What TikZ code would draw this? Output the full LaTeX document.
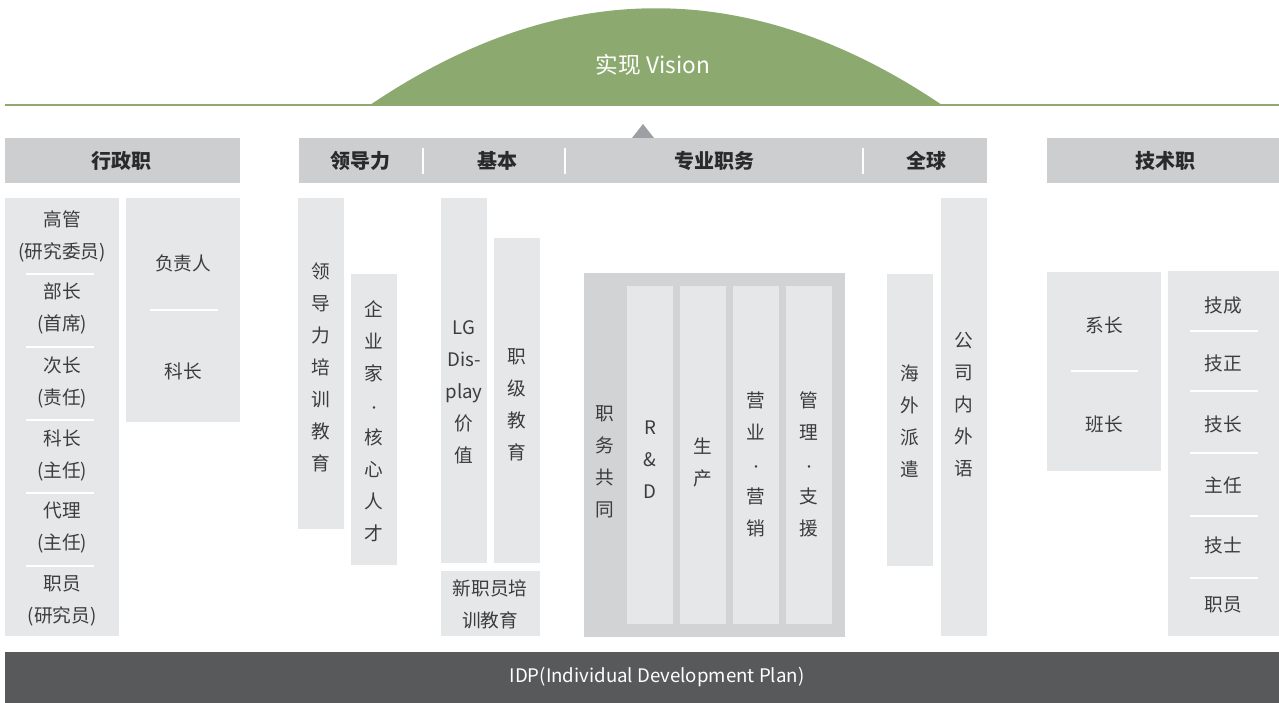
\documentclass[tikz,border=0pt]{standalone}
\usepackage{fontspec}
\setmainfont{Noto Sans CJK SC}
\definecolor{visiongreen}{HTML}{8CAA6F}
\definecolor{headgray}{HTML}{CDCED0}
\definecolor{cellgray}{HTML}{E6E7E8}
\definecolor{progray}{HTML}{D2D3D5}
\definecolor{idpgray}{HTML}{58595B}
\definecolor{tipgray}{HTML}{9D9FA2}
\definecolor{bodytext}{HTML}{3C3C3C}
\definecolor{headtext}{HTML}{2A2A2A}
\newcommand{\middot}{{\fontsize{9}{24}\selectfont·}}
\begin{document}
\begin{tikzpicture}[x=0.75pt,y=-0.75pt,
  head/.style={font=\fontsize{15}{18}\selectfont\bfseries,text=headtext,inner sep=0pt},
  txt/.style={font=\fontsize{14}{24}\selectfont,text=bodytext,align=center,inner sep=0pt},
  sep/.style={white,line width=0.9pt}]
\useasboundingbox (0,0) rectangle (1279,703);
% vision arch
\fill[visiongreen] (370,105) .. controls (561,-24) and (751,-24) .. (942,105) -- cycle;
\draw[visiongreen,line width=2pt] (5,105) -- (1279,105);
\node[font=\fontsize{17}{20}\selectfont,text=white] (vision) at (653,65) {实现 Vision};
\fill[tipgray] (643,124) -- (654,138) -- (632,138) -- cycle;
% header bars
\fill[headgray] (5,138) rectangle (240,183);
\fill[headgray] (299,138) rectangle (987,183);
\fill[headgray] (1047,138) rectangle (1279,183);
\foreach \x in {423,565,863}{\draw[sep] (\x,148) -- (\x,174);}
\foreach \x/\t/\n in {121/行政职/adm,360/领导力/lead,497/基本/basic,714/专业职务/pro,926/全球/global,1165/技术职/tech}{\node[head] (h\n) at (\x,161) {\t};}
% administrative track
\fill[cellgray] (5,198) rectangle (119,636);
\fill[cellgray] (126,198) rectangle (240,422);
\foreach \y/\t [count=\i] in {236/{高管\\(研究委员)},308/{部长\\(首席)},382/{次长\\(责任)},455/{科长\\(主任)},528/{代理\\(主任)},601/{职员\\(研究员)}}{\node[txt] (adm\i) at (62,\y) {\t};}
\foreach \y in {274,347,420,493,566}{\draw[sep] (26,\y) -- (94,\y);}
\node[txt] (boss) at (183,263) {负责人};
\node[txt] (chief) at (183,371) {科长};
\draw[sep] (150,310) -- (218,310);
% leadership and basic
\fill[cellgray] (298,198) rectangle (344,529);
\fill[cellgray] (351,274) rectangle (397,565);
\fill[cellgray] (441,198) rectangle (487,563);
\fill[cellgray] (494,238) rectangle (540,563);
\fill[cellgray] (441,571) rectangle (540,636);
\node[txt] (leadtrain) at (321,367) {领\\导\\力\\培\\训\\教\\育};
\node[txt] (talent) at (374,421) {企\\业\\家\\\middot\\核\\心\\人\\才};
\node[txt] (value) at (464,392) {LG\\Dis-\\play\\价\\值};
\node[txt] (grade) at (517,405) {职\\级\\教\\育};
\node[txt] (newhire) at (490,604) {新职员培\\训教育};
% professional duty
\fill[progray] (584,273) rectangle (845,637);
\foreach \x in {627,680,733,786}{\fill[cellgray] (\x,286) rectangle ++(46,338);}
\node[txt] (common) at (605,462) {职\\务\\共\\同};
\node[txt] (rnd) at (650,460) {R\\\&\\D};
\node[txt] (prod) at (703,462) {生\\产};
\node[txt] (sales) at (756,464) {营\\业\\\middot\\营\\销};
\node[txt] (support) at (809,464) {管\\理\\\middot\\支\\援};
% global
\fill[cellgray] (887,274) rectangle (933,566);
\fill[cellgray] (941,198) rectangle (987,636);
\node[txt] (abroad) at (910,421) {海\\外\\派\\遣};
\node[txt] (lang) at (964,405) {公\\司\\内\\外\\语};
% technical track
\fill[cellgray] (1047,272) rectangle (1161,471);
\fill[cellgray] (1168,271) rectangle (1279,636);
\node[txt] (foreman) at (1104,325) {系长};
\node[txt] (leader) at (1104,424) {班长};
\draw[sep] (1071,371) -- (1138,371);
\foreach \y/\t [count=\i] in {305/技成,363/技正,424/技长,485/主任,545/技士,605/职员}{\node[txt] (tech\i) at (1223,\y) {\t};}
\foreach \y in {331,391,453,516,578}{\draw[sep] (1190,\y) -- (1258,\y);}
% IDP
\fill[idpgray] (5,652) rectangle (1279,703);
\node[font=\fontsize{14}{17}\selectfont,text=white] (idp) at (657,677) {IDP(Individual Development Plan)};
\end{tikzpicture}
\end{document}
